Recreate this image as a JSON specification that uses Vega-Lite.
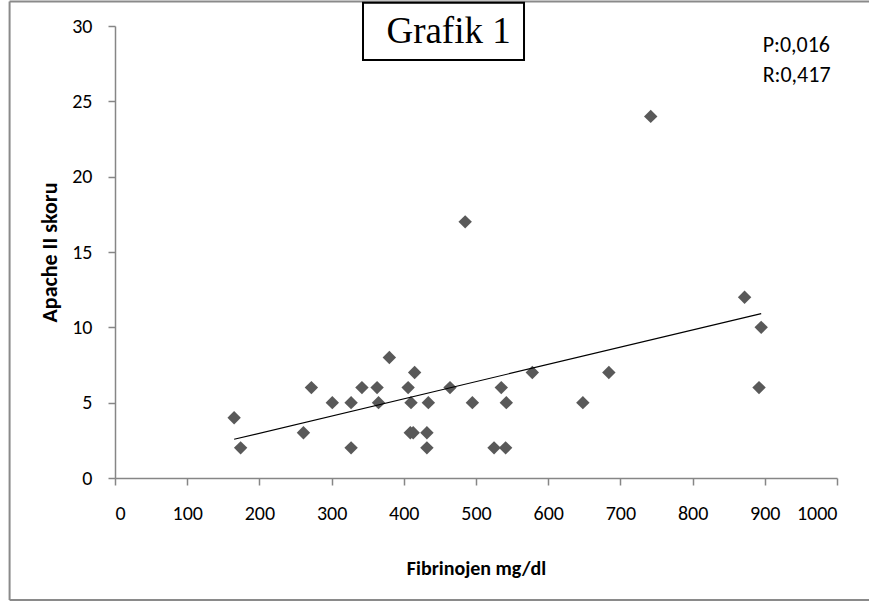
{
  "$schema": "https://vega.github.io/schema/vega-lite/v6.json",
  "autosize": "none",
  "width": 722,
  "height": 452,
  "padding": {"left": 115, "top": 26, "right": 32, "bottom": 125},
  "background": "white",
  "config": {
    "view": {"stroke": null}
  },
  "datasets": {
    "points": [
      {"Fibrinojen": 165, "Apache": 4},
      {"Fibrinojen": 174, "Apache": 2},
      {"Fibrinojen": 261, "Apache": 3},
      {"Fibrinojen": 272, "Apache": 6},
      {"Fibrinojen": 301, "Apache": 5},
      {"Fibrinojen": 327, "Apache": 5},
      {"Fibrinojen": 327, "Apache": 2},
      {"Fibrinojen": 342, "Apache": 6},
      {"Fibrinojen": 363, "Apache": 6},
      {"Fibrinojen": 365, "Apache": 5},
      {"Fibrinojen": 380, "Apache": 8},
      {"Fibrinojen": 406, "Apache": 6},
      {"Fibrinojen": 410, "Apache": 5},
      {"Fibrinojen": 415, "Apache": 7},
      {"Fibrinojen": 409, "Apache": 3},
      {"Fibrinojen": 413, "Apache": 3},
      {"Fibrinojen": 432, "Apache": 3},
      {"Fibrinojen": 432, "Apache": 2},
      {"Fibrinojen": 434, "Apache": 5},
      {"Fibrinojen": 464, "Apache": 6},
      {"Fibrinojen": 485, "Apache": 17},
      {"Fibrinojen": 495, "Apache": 5},
      {"Fibrinojen": 525, "Apache": 2},
      {"Fibrinojen": 541, "Apache": 2},
      {"Fibrinojen": 535, "Apache": 6},
      {"Fibrinojen": 542, "Apache": 5},
      {"Fibrinojen": 578, "Apache": 7},
      {"Fibrinojen": 648, "Apache": 5},
      {"Fibrinojen": 684, "Apache": 7},
      {"Fibrinojen": 742, "Apache": 24},
      {"Fibrinojen": 872, "Apache": 12},
      {"Fibrinojen": 895, "Apache": 10},
      {"Fibrinojen": 892, "Apache": 6}
    ]
  },
  "layer": [
    {
      "data": {"values": [{}]},
      "mark": {"type": "rule", "color": "#8a8a8a", "strokeWidth": 2, "clip": false},
      "encoding": {
        "x": {"datum": -146, "type": "quantitative", "scale": {"domain": [0, 1000], "nice": false}},
        "y": {"datum": 31.62, "type": "quantitative", "scale": {"domain": [0, 30], "nice": false}},
        "y2": {"datum": -8.1}
      }
    },
    {
      "data": {"values": [{}]},
      "mark": {"type": "rule", "color": "#8a8a8a", "strokeWidth": 2, "clip": false},
      "encoding": {
        "x": {"datum": -146, "type": "quantitative"},
        "x2": {"datum": 1250},
        "y": {"datum": 31.62, "type": "quantitative"}
      }
    },
    {
      "data": {"values": [{}]},
      "mark": {"type": "rule", "color": "#8a8a8a", "strokeWidth": 2, "clip": false},
      "encoding": {
        "x": {"datum": -146, "type": "quantitative"},
        "x2": {"datum": 1250},
        "y": {"datum": -8.1, "type": "quantitative"}
      }
    },
    {
      "data": {"name": "points"},
      "mark": {"type": "point", "shape": "diamond", "filled": true, "size": 180, "color": "#595959", "opacity": 1},
      "encoding": {
        "x": {
          "field": "Fibrinojen", "type": "quantitative",
          "scale": {"domain": [0, 1000], "nice": false},
          "axis": {
            "values": [0, 100, 200, 300, 400, 500, 600, 700, 800, 900, 1000], "format": "d",
            "grid": false, "domainColor": "#868686", "domainWidth": 1.5, "tickColor": "#868686", "tickWidth": 1.5, "tickSize": 7,
            "labelFont": "Carlito, Lato", "labelFontSize": 20, "labelColor": "#000000", "labelPadding": 18,
            "title": "Fibrinojen mg/dl", "titleFont": "Carlito, Lato", "titleFontSize": 20, "titleFontWeight": "bold", "titleColor": "#000000",
            "titleBaseline": "middle", "titleY": 90, "titleX": 361
          }
        },
        "y": {
          "field": "Apache", "type": "quantitative",
          "scale": {"domain": [0, 30], "nice": false},
          "axis": {
            "values": [0, 5, 10, 15, 20, 25, 30],
            "grid": false, "domainColor": "#868686", "domainWidth": 1.5, "tickColor": "#868686", "tickWidth": 1.5, "tickSize": 7,
            "labelFont": "Carlito, Lato", "labelFontSize": 20, "labelColor": "#000000", "labelPadding": 16,
            "title": "Apache II skoru", "titleFont": "Carlito, Lato", "titleFontSize": 22, "titleFontWeight": "bold", "titleColor": "#000000",
            "titleBaseline": "middle", "titleX": -66, "titleY": 226
          }
        }
      }
    },
    {
      "data": {"name": "points"},
      "transform": [{"regression": "Apache", "on": "Fibrinojen"}],
      "mark": {"type": "line", "color": "#000000", "strokeWidth": 1.2},
      "encoding": {
        "x": {"field": "Fibrinojen", "type": "quantitative"},
        "y": {"field": "Apache", "type": "quantitative"}
      }
    },
    {
      "data": {"values": [{}]},
      "mark": {"type": "rect", "fill": "white", "stroke": "#000000", "strokeWidth": 2, "clip": false},
      "encoding": {
        "x": {"datum": 343.5, "type": "quantitative"},
        "x2": {"datum": 566.5},
        "y": {"datum": 31.55, "type": "quantitative"},
        "y2": {"datum": 27.74}
      }
    },
    {
      "data": {"values": [{"label": "Grafik 1"}]},
      "mark": {"type": "text", "font": "Liberation Serif", "fontSize": 37, "color": "#000000", "align": "center", "baseline": "middle", "clip": false},
      "encoding": {
        "x": {"datum": 462, "type": "quantitative"},
        "y": {"datum": 29.62, "type": "quantitative"},
        "text": {"field": "label"}
      }
    },
    {
      "data": {"values": [{"label": "P:0,016", "pos": 28.73}, {"label": "R:0,417", "pos": 26.74}]},
      "mark": {"type": "text", "font": "Carlito, Lato", "fontSize": 22, "color": "#000000", "align": "left", "baseline": "middle", "clip": false},
      "encoding": {
        "x": {"datum": 897, "type": "quantitative"},
        "y": {"field": "pos", "type": "quantitative"},
        "text": {"field": "label"}
      }
    }
  ]
}
